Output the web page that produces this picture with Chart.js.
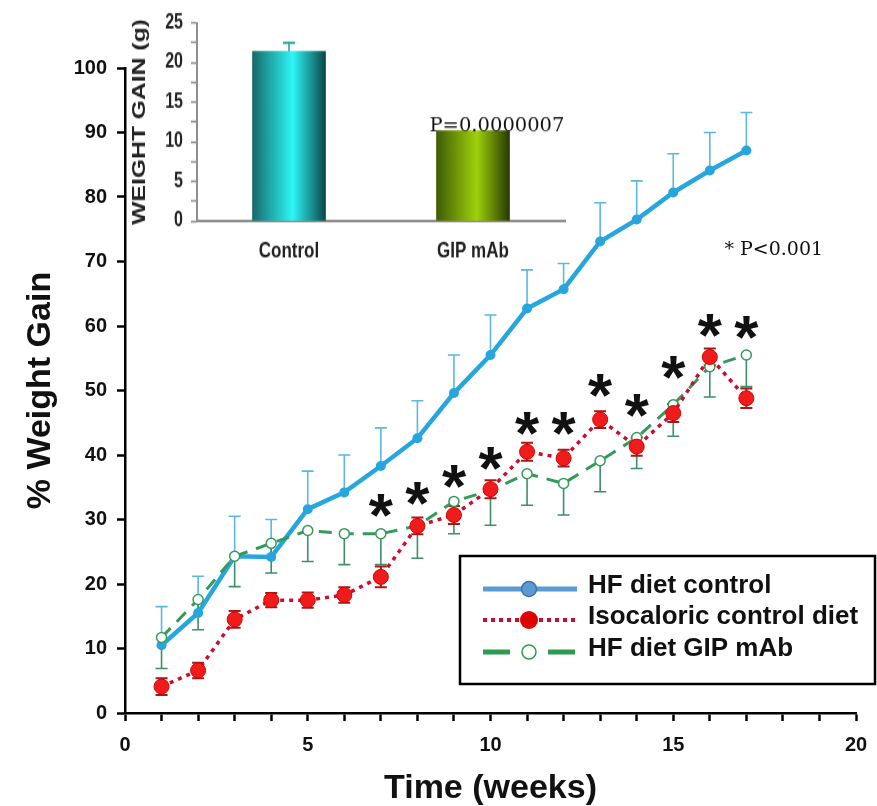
<!DOCTYPE html>
<html>
<head>
<meta charset="utf-8">
<script src="https://cdn.jsdelivr.net/npm/chart.js@4.4.0/dist/chart.umd.min.js"></script>
<style>
  html, body { margin: 0; padding: 0; background: #fff; }
  #wrap { position: relative; width: 877px; height: 806px; overflow: hidden; }
  #main { position: absolute; left: 0; top: 0; }
  #inset { position: absolute; left: 110px; top: 0; transform-origin: 0 0; }
</style>
</head>
<body>
<div id="wrap">
  <canvas id="main" width="877" height="806"></canvas>
  <canvas id="inset" width="470" height="214"></canvas>
</div>
<script>
// main chart data
const weeks = [1, 2, 3, 4, 5, 6, 7, 8, 9, 10, 11, 12, 13, 14, 15, 16, 17];
const hfControl = [10.5, 15.5, 24.3, 24.2, 31.6, 34.2, 38.3, 42.6, 49.6, 55.5, 62.7, 65.7, 73.1, 76.5, 80.7, 84.1, 87.2];
const hfControlUpper = [16.5, 21.2, 30.5, 30.0, 37.5, 40.0, 44.2, 48.4, 55.5, 61.7, 68.7, 69.7, 79.1, 82.5, 86.7, 90.0, 93.1];
const isocaloric = [4.1, 6.6, 14.5, 17.5, 17.5, 18.3, 21.1, 29.0, 30.7, 34.7, 40.5, 39.5, 45.5, 41.3, 46.5, 55.2, 48.8];
const isocaloricErr = [1.3, 1.2, 1.3, 1.1, 1.2, 1.2, 1.6, 1.3, 1.4, 1.4, 1.4, 1.3, 1.3, 1.4, 1.4, 1.3, 1.5];
const hfGipMab = [11.7, 17.6, 24.3, 26.3, 28.3, 27.8, 27.8, 29.0, 32.8, 34.5, 37.1, 35.6, 39.1, 42.7, 47.8, 53.7, 55.5];
const hfGipMabLower = [6.9, 12.9, 19.6, 21.7, 23.5, 23.0, 23.0, 24.0, 27.8, 29.1, 32.2, 30.7, 34.3, 37.9, 42.9, 49.0, 50.6];
const starWeeks = [7, 8, 9, 10, 11, 12, 13, 14, 15, 16, 17];
const starY = [32.0, 33.8, 36.4, 39.2, 44.6, 44.6, 50.6, 47.5, 53.4, 59.9, 59.5];
const seriesNames = ['HF diet control', 'Isocaloric control diet', 'HF diet GIP mAb'];

// inset bar chart data
const insetGroups = ['Control', 'GIP mAb'];
const insetGain = [21.4, 11.4];
const insetErr = [1.1, 0];

const FONT = '"Liberation Sans", Arial, sans-serif';
const SERIF = '"DejaVu Serif", "Liberation Serif", serif';
const STRETCH = 1.3; // inset is vertically stretched in the figure

const BLUE = '#27a6de', RED = '#f01c1c', GREEN = '#35995c';

const pts = vals => weeks.map((w, i) => ({ x: w, y: vals[i] }));

const errorBars = {
  id: 'errorBars',
  beforeDatasetsDraw(chart) {
    const { ctx, scales: { x, y } } = chart;
    const seg = (w, from, to, color, width, half, bothCaps) => {
      const px = x.getPixelForValue(w);
      const y1 = y.getPixelForValue(from), y2 = y.getPixelForValue(to);
      ctx.strokeStyle = color;
      ctx.lineWidth = width;
      ctx.beginPath();
      ctx.moveTo(px, y1); ctx.lineTo(px, y2);
      ctx.moveTo(px - half, y2); ctx.lineTo(px + half, y2);
      if (bothCaps) { ctx.moveTo(px - half, y1); ctx.lineTo(px + half, y1); }
      ctx.stroke();
    };
    ctx.save();
    weeks.forEach((w, i) => {
      seg(w, hfControl[i], hfControlUpper[i], '#5ab8e2', 1.6, 6, false);
      seg(w, hfGipMab[i], hfGipMabLower[i], '#3c8f6a', 1.6, 6, false);
      seg(w, isocaloric[i] - isocaloricErr[i], isocaloric[i] + isocaloricErr[i], '#a81818', 2, 6, true);
    });
    ctx.restore();
  }
};

const STAR_SIZE = 62;
const annotations = {
  id: 'annotations',
  afterDatasetsDraw(chart) {
    const { ctx, scales: { x, y } } = chart;
    ctx.save();
    ctx.fillStyle = '#111';
    ctx.font = 'bold ' + STAR_SIZE + 'px ' + FONT;
    ctx.textAlign = 'center';
    ctx.textBaseline = 'alphabetic';
    starWeeks.forEach((w, i) => {
      ctx.fillText('*', x.getPixelForValue(w), y.getPixelForValue(starY[i]) + STAR_SIZE * 0.47);
    });
    ctx.font = '19px ' + SERIF;
    ctx.textAlign = 'left';
    ctx.textBaseline = 'middle';
    ctx.fillText('* P<0.001', x.getPixelForValue(16.4), y.getPixelForValue(71.8));
    ctx.restore();
  },
  afterDraw(chart) {
    // legend box
    const { ctx } = chart;
    const L = 460, T = 556, R = 875, B = 684;
    ctx.save();
    ctx.strokeStyle = '#000';
    ctx.lineWidth = 2.5;
    ctx.strokeRect(L, T, R - L, B - T);
    const rows = [589, 620, 652];
    const x0 = 483, x1 = 577, xm = 529;
    // HF diet control
    ctx.lineWidth = 5;
    ctx.strokeStyle = '#5b9bd5';
    ctx.beginPath(); ctx.moveTo(x0, rows[0]); ctx.lineTo(x1, rows[0]); ctx.stroke();
    ctx.fillStyle = '#5b9bd5';
    ctx.strokeStyle = '#41719c';
    ctx.lineWidth = 1.5;
    ctx.beginPath(); ctx.arc(xm, rows[0], 7.5, 0, Math.PI * 2); ctx.fill(); ctx.stroke();
    // Isocaloric
    ctx.setLineDash([4, 4]);
    ctx.lineWidth = 4;
    ctx.strokeStyle = '#c8102e';
    ctx.beginPath(); ctx.moveTo(x0, rows[1]); ctx.lineTo(x1, rows[1]); ctx.stroke();
    ctx.setLineDash([]);
    ctx.fillStyle = '#e00000';
    ctx.beginPath(); ctx.arc(xm, rows[1], 9, 0, Math.PI * 2); ctx.fill();
    // GIP mAb
    ctx.setLineDash([27, 38]);
    ctx.lineWidth = 5;
    ctx.strokeStyle = '#2e9a52';
    ctx.beginPath(); ctx.moveTo(x0, rows[2]); ctx.lineTo(x1, rows[2]); ctx.stroke();
    ctx.setLineDash([]);
    ctx.fillStyle = '#fff';
    ctx.lineWidth = 1.5;
    ctx.beginPath(); ctx.arc(xm, rows[2], 7, 0, Math.PI * 2); ctx.fill(); ctx.stroke();
    // labels
    ctx.fillStyle = '#111';
    ctx.font = 'bold 26px ' + FONT;
    ctx.textAlign = 'left';
    ctx.textBaseline = 'middle';
    seriesNames.forEach((n, i) => ctx.fillText(n, 588, rows[i] - 3));
    ctx.restore();
  }
};

const tickFont = { family: FONT, size: 20, weight: 'bold' };
const titleFont = { family: FONT, size: 34, weight: 'bold', lineHeight: 1 };

new Chart(document.getElementById('main'), {
  type: 'line',
  data: {
    datasets: [
      {
        label: seriesNames[0], data: pts(hfControl), order: 3,
        borderColor: BLUE, backgroundColor: BLUE, borderWidth: 4.5,
        pointRadius: 5, pointBackgroundColor: BLUE, pointBorderWidth: 0, tension: 0
      },
      {
        label: seriesNames[1], data: pts(isocaloric), order: 1,
        borderColor: '#c8102e', borderWidth: 3.5, borderDash: [4, 5],
        pointRadius: 7.5, pointBackgroundColor: RED, pointBorderColor: '#d80000', pointBorderWidth: 1, tension: 0
      },
      {
        label: seriesNames[2], data: pts(hfGipMab), order: 2,
        borderColor: GREEN, borderWidth: 3, borderDash: [13, 9],
        pointRadius: 5, pointBackgroundColor: '#fff', pointBorderColor: GREEN, pointBorderWidth: 1.5, tension: 0
      }
    ]
  },
  options: {
    responsive: false,
    animation: false,
    devicePixelRatio: 1,
    layout: { padding: { left: 0, right: 21, top: 68, bottom: 0 } },
    plugins: { legend: { display: false }, tooltip: { enabled: false } },
    scales: {
      x: {
        type: 'linear', min: 0, max: 20,
        ticks: { stepSize: 1, autoSkip: false, maxRotation: 0, color: '#111', font: tickFont, padding: 12,
                 callback: v => (v % 5 === 0 ? v : '') },
        grid: { drawOnChartArea: false, tickLength: 8, tickWidth: 2.5, tickColor: '#000' },
        border: { color: '#000', width: 2.5 },
        title: { display: true, text: 'Time (weeks)', color: '#111', font: titleFont, padding: 0 },
        afterFit: s => { s.height = 93; s.paddingRight = 12; s.paddingLeft = 12; }
      },
      y: {
        min: 0, max: 100,
        ticks: { stepSize: 10, color: '#111', font: tickFont, padding: 10 },
        grid: { drawOnChartArea: false, tickLength: 8, tickWidth: 2.5, tickColor: '#000' },
        border: { color: '#000', width: 2.5 },
        title: { display: true, text: '% Weight Gain', color: '#111', font: titleFont, padding: { top: 24, bottom: 0 } },
        afterFit: s => { s.width = 125; }
      }
    }
  },
  plugins: [errorBars, annotations]
});

// inset
const insetCanvas = document.getElementById('inset');
insetCanvas.style.transform = 'scaleY(' + STRETCH + ')';

const barGradient = (ctx, left, width, dark1, light, dark2) => {
  const g = ctx.createLinearGradient(left, 0, left + width, 0);
  g.addColorStop(0, dark1);
  g.addColorStop(0.55, light);
  g.addColorStop(1, dark2);
  return g;
};

const BAR_W = 73;
const insetExtras = {
  id: 'insetExtras',
  afterDatasetsDraw(chart) {
    const { ctx, scales: { x, y } } = chart;
    ctx.save();
    ctx.strokeStyle = '#2aa5a8';
    ctx.lineWidth = 1.6;
    insetGain.forEach((v, i) => {
      if (!insetErr[i]) return;
      const px = x.getPixelForValue(i);
      const y1 = y.getPixelForValue(v), y2 = y.getPixelForValue(v + insetErr[i]);
      ctx.beginPath();
      ctx.moveTo(px, y1); ctx.lineTo(px, y2);
      ctx.moveTo(px - 6, y2); ctx.lineTo(px + 6, y2);
      ctx.stroke();
    });
    // p-value, drawn unstretched
    ctx.scale(1, 1 / STRETCH);
    ctx.fillStyle = '#111';
    ctx.font = '19.5px ' + SERIF;
    ctx.textAlign = 'left';
    ctx.textBaseline = 'alphabetic';
    ctx.fillText('P=0.0000007', x.getPixelForValue(1) - BAR_W / 2 - 7, y.getPixelForValue(insetGain[1]) * STRETCH + 1);
    ctx.restore();
  }
};

new Chart(insetCanvas, {
  type: 'bar',
  data: {
    labels: insetGroups,
    datasets: [{
      data: insetGain,
      barThickness: BAR_W,
      borderWidth: 0,
      backgroundColor: c => {
        const sx = c.chart.scales.x;
        const fallback = c.dataIndex === 0 ? '#1ccfd4' : '#7fae08';
        if (!sx) return fallback;
        const left = sx.getPixelForValue(c.dataIndex) - BAR_W / 2;
        if (!isFinite(left)) return fallback;
        return c.dataIndex === 0
          ? barGradient(c.chart.ctx, left, BAR_W, '#17696b', '#2ef6f6', '#0a4749')
          : barGradient(c.chart.ctx, left, BAR_W, '#3f5c06', '#9ed10a', '#263a00');
      }
    }]
  },
  options: {
    responsive: false,
    animation: false,
    devicePixelRatio: 1,
    layout: { padding: { left: 0, right: 15, top: 13, bottom: 0 } },
    plugins: { legend: { display: false }, tooltip: { enabled: false } },
    scales: {
      x: {
        grid: { display: false },
        border: { color: '#8f8f8f', width: 2 },
        ticks: { color: '#222', font: { family: FONT, size: 17, weight: 'bold' }, padding: 5 },
        afterFit: s => { s.height = 44; }
      },
      y: {
        min: 0, max: 25,
        ticks: { stepSize: 2.5, autoSkip: false, color: '#222', font: { family: FONT, size: 16, weight: 'bold' }, padding: 8,
                 callback: v => (v % 5 === 0 ? v : '') },
        grid: { drawOnChartArea: false, tickLength: 6, tickColor: '#8f8f8f', tickWidth: 1.5 },
        border: { color: '#8f8f8f', width: 2 },
        title: { display: true, text: 'WEIGHT GAIN (g)', color: '#222',
                 font: { family: FONT, size: 19, weight: 'bold', lineHeight: 1 }, padding: { top: 20, bottom: 0 } },
        afterFit: s => { s.width = 87; }
      }
    }
  },
  plugins: [insetExtras]
});
</script>
</body>
</html>
